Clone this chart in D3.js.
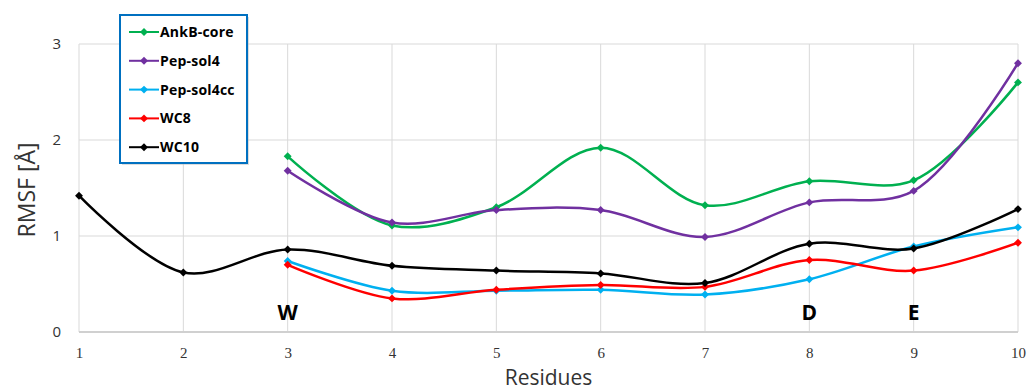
<!DOCTYPE html>
<html>
<head>
<meta charset="utf-8">
<script src="https://cdn.jsdelivr.net/npm/d3@7"></script>
<style>
  body { margin: 0; background: #fff; }
  svg { display: block; }
</style>
</head>
<body>
<div id="chart"></div>
<script>
const residues = [1, 2, 3, 4, 5, 6, 7, 8, 9, 10];
const yTicks = [0, 1, 2, 3];

const ankbCore = [null, null, 1.83, 1.11, 1.30, 1.92, 1.32, 1.57, 1.58, 2.60];
const pepSol4 = [null, null, 1.68, 1.14, 1.27, 1.27, 0.99, 1.35, 1.47, 2.80];
const pepSol4cc = [null, null, 0.74, 0.43, 0.43, 0.44, 0.39, 0.55, 0.89, 1.09];
const wc8 = [null, null, 0.70, 0.35, 0.44, 0.49, 0.47, 0.75, 0.64, 0.93];
const wc10 = [1.42, 0.62, 0.86, 0.69, 0.64, 0.61, 0.51, 0.92, 0.87, 1.28];

const seriesNames = ['AnkB-core', 'Pep-sol4', 'Pep-sol4cc', 'WC8', 'WC10'];
const seriesColors = ['#00b050', '#7030a0', '#00b0f0', '#ff0000', '#000000'];
const seriesValues = [ankbCore, pepSol4, pepSol4cc, wc8, wc10];

// residue annotations under the lines
const markLetters = [{ x: 3, t: 'W' }, { x: 8, t: 'D' }, { x: 9, t: 'E' }];

const width = 1028, height = 392;
const margin = { left: 79, right: 10, top: 44, bottom: 60 };

const svg = d3.select('#chart').append('svg')
  .attr('width', width)
  .attr('height', height);

const x = d3.scaleLinear().domain([1, 10]).range([margin.left, width - margin.right]);
const y = d3.scaleLinear().domain([0, 3]).range([height - margin.bottom, margin.top]);

// grid
svg.append('g').selectAll('line').data(residues).enter().append('line')
  .attr('x1', d => x(d)).attr('x2', d => x(d))
  .attr('y1', y(0)).attr('y2', y(3))
  .attr('stroke', '#d9d9d9').attr('stroke-width', 1);
svg.append('g').selectAll('line').data(yTicks).enter().append('line')
  .attr('x1', x(1)).attr('x2', x(10))
  .attr('y1', d => y(d)).attr('y2', d => y(d))
  .attr('stroke', d => d === 0 ? '#d0d0d0' : '#d9d9d9')
  .attr('stroke-width', d => d === 0 ? 2 : 1);

// tick labels
const xAxis = svg.append('g')
  .attr('transform', `translate(0,${y(0) + 12})`)
  .call(d3.axisBottom(x).tickValues(residues).tickFormat(d3.format('d')).tickSize(0));
xAxis.select('.domain').remove();
xAxis.selectAll('text')
  .attr('font-family', 'Liberation Serif, serif')
  .attr('font-size', 15).attr('fill', '#333');

const yAxis = svg.append('g')
  .attr('transform', `translate(${x(1) - 15},0)`)
  .call(d3.axisLeft(y).tickValues(yTicks).tickFormat(d3.format('d')).tickSize(0));
yAxis.select('.domain').remove();
yAxis.selectAll('text')
  .attr('font-family', 'Open Sans, sans-serif')
  .attr('font-size', 15).attr('fill', '#333');

// axis titles
svg.append('text')
  .attr('x', (x(1) + x(10)) / 2).attr('y', 385)
  .attr('text-anchor', 'middle')
  .attr('font-family', 'Open Sans, sans-serif')
  .attr('font-size', 21).attr('fill', '#333')
  .text('Residues');

svg.append('text')
  .attr('transform', `translate(35,${y(1.48)}) rotate(-90)`)
  .attr('text-anchor', 'middle')
  .attr('font-family', 'Open Sans, sans-serif')
  .attr('font-size', 23).attr('fill', '#333')
  .text('RMSF [Å]');

// annotation letters
svg.append('g').selectAll('text').data(markLetters).enter().append('text')
  .attr('x', d => x(d.x)).attr('y', 320)
  .attr('text-anchor', 'middle')
  .attr('font-family', 'Open Sans, sans-serif')
  .attr('font-weight', 'bold')
  .attr('font-size', 21).attr('fill', '#000')
  .text(d => d.t);

// series lines
const line = d3.line()
  .defined(d => d.v != null)
  .x(d => x(d.r))
  .y(d => y(d.v))
  .curve(d3.curveCatmullRom.alpha(0.5));

const diamond = d3.symbol().type(d3.symbolDiamond2).size(40);

seriesValues.forEach((vals, i) => {
  const pts = residues.map((r, j) => ({ r: r, v: vals[j] }));
  const g = svg.append('g');
  g.append('path')
    .datum(pts.filter(d => d.v != null))
    .attr('d', line)
    .attr('fill', 'none')
    .attr('stroke', seriesColors[i])
    .attr('stroke-width', 2.5);
  g.selectAll('path.pt').data(pts.filter(d => d.v != null)).enter().append('path')
    .attr('class', 'pt')
    .attr('transform', d => `translate(${x(d.r)},${y(d.v)})`)
    .attr('d', diamond)
    .attr('fill', seriesColors[i]);
});

// legend
const legend = svg.append('g').attr('transform', 'translate(120,15)');
legend.append('rect')
  .attr('x', 2).attr('y', 2).attr('width', 127).attr('height', 148)
  .attr('fill', '#bbb').attr('opacity', 0.5);
legend.append('rect')
  .attr('width', 127).attr('height', 148)
  .attr('fill', '#fff')
  .attr('stroke', '#0070c0').attr('stroke-width', 2);
seriesNames.forEach((name, i) => {
  const ly = 17 + i * 28.8;
  legend.append('line')
    .attr('x1', 9).attr('x2', 39).attr('y1', ly).attr('y2', ly)
    .attr('stroke', seriesColors[i]).attr('stroke-width', 2);
  legend.append('path')
    .attr('transform', `translate(24,${ly})`)
    .attr('d', diamond)
    .attr('fill', seriesColors[i]);
  legend.append('text')
    .attr('x', 40).attr('y', ly + 5)
    .attr('font-family', 'Open Sans, sans-serif')
    .attr('font-weight', 'bold')
    .attr('font-size', 14).attr('letter-spacing', 0.2).attr('fill', '#000')
    .text(name);
});
</script>
</body>
</html>
